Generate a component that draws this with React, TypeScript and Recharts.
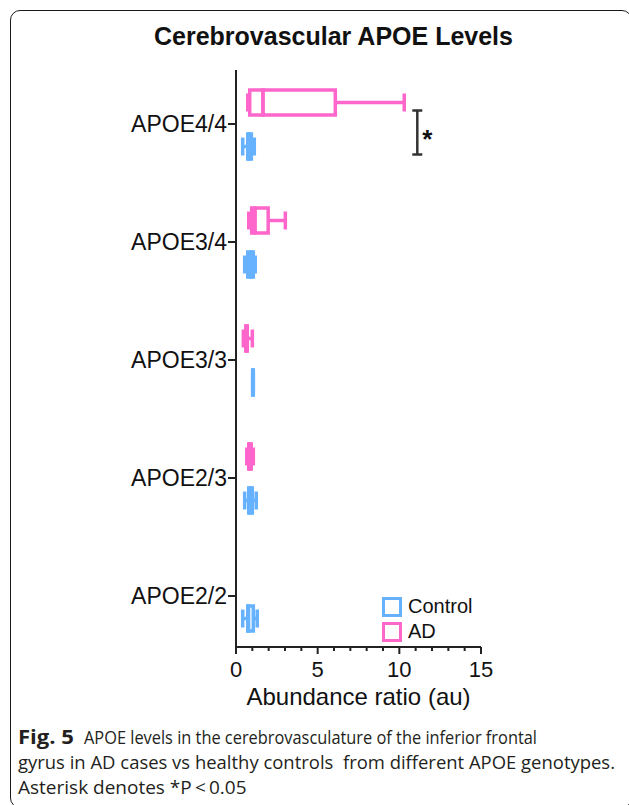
import React from 'react';
import { Bar, ComposedChart, Legend, XAxis, YAxis } from 'recharts';

const categories = ['APOE4/4', 'APOE3/4', 'APOE3/3', 'APOE2/3', 'APOE2/2'];

// [min, q1, median, q3, max] for each genotype
const adBoxes: (number[] | null)[] = [
  [0.72, 0.84, 1.65, 6.08, 10.3],
  [0.78, 0.96, 1.16, 1.97, 3.02],
  [0.45, 0.6, 0.65, 0.69, 1.0],
  [0.66, 0.78, 0.85, 0.93, 1.06],
  null,
];
const controlBoxes: (number[] | null)[] = [
  [0.41, 0.72, 0.8, 0.94, 1.12],
  [0.53, 0.72, 0.9, 1.06, 1.18],
  [1.02, 1.02, 1.04, 1.06, 1.06],
  [0.53, 0.78, 0.9, 1.0, 1.24],
  [0.41, 0.72, 0.76, 1.06, 1.3],
];

const xTicks = [0, 1, 2, 3, 4, 5, 6, 7, 8, 9, 10, 11, 12, 13, 14, 15];
const significance = [{ category: 'APOE4/4', at: 11.1, label: '*' }];

const groups = [
  { key: 'ad', name: 'AD', color: '#FF66CC', boxes: adBoxes },
  { key: 'ctrl', name: 'Control', color: '#66B2FF', boxes: controlBoxes },
];

const FONT = '"Liberation Sans", Arial, Helvetica, sans-serif';
const CAPTION_FONT = '"Open Sans", "Noto Sans", sans-serif';
const STROKE = 3.5;
const CAP = 18;
const BAR = 25;
const GAP = 19;

// stacked segments: invisible base, lower whisker, two box halves, upper whisker
const rows = categories.map((category, i) => {
  const row: any = { category };
  groups.forEach((g) => {
    const b = g.boxes[i];
    if (!b) return;
    const [mn, q1, md, q3, mx] = b;
    row[g.key + 'Base'] = mn;
    row[g.key + 'Lo'] = q1 - mn;
    row[g.key + 'Box1'] = md - q1;
    row[g.key + 'Box2'] = q3 - md;
    row[g.key + 'Hi'] = mx - q3;
  });
  return row;
});

const partShape = (part: string, g: any) => (props: any) => {
  const { x, y, width, height, payload } = props;
  if (!payload || payload[g.key + part] == null) return <g />;
  if (x == null || isNaN(x) || isNaN(y)) return <g />;
  const cy = y + height / 2;
  const c = g.color;
  if (part === 'Base') return <g />;
  if (part === 'Box1' || part === 'Box2') {
    return <rect x={x} y={y} width={width} height={height} fill="none" stroke={c} strokeWidth={STROKE} />;
  }
  if (part === 'Lo') {
    return (
      <g stroke={c} strokeWidth={STROKE}>
        <line x1={x} x2={x + width} y1={cy} y2={cy} />
        <line x1={x} x2={x} y1={cy - CAP / 2} y2={cy + CAP / 2} />
      </g>
    );
  }
  // upper whisker (+ significance bracket where marked)
  const sig = significance.find((s) => s.category === payload.category);
  let bracket = null;
  if (sig && g.key === 'ad') {
    const b = g.boxes[categories.indexOf(payload.category)];
    const ppu = width / (b[4] - b[3]);
    const bx = x + width + (sig.at - b[4]) * ppu;
    const y1 = cy + 8;
    const y2 = y1 + BAR + GAP;
    bracket = (
      <g>
        <g stroke="#333" strokeWidth={2.5}>
          <line x1={bx} x2={bx} y1={y1} y2={y2} />
          <line x1={bx - 5} x2={bx + 5} y1={y1} y2={y1} />
          <line x1={bx - 5} x2={bx + 5} y1={y2} y2={y2} />
        </g>
        <text x={bx + 10} y={(y1 + y2) / 2 + 15} textAnchor="middle" fontSize={26} fontWeight="bold" fontFamily={FONT} fill="#111">
          {sig.label}
        </text>
      </g>
    );
  }
  return (
    <g>
      <g stroke={c} strokeWidth={STROKE}>
        <line x1={x} x2={x + width} y1={cy} y2={cy} />
        <line x1={x + width} x2={x + width} y1={cy - CAP / 2} y2={cy + CAP / 2} />
      </g>
      {bracket}
    </g>
  );
};

const XTick = (props: any) => {
  const { x, y, payload } = props;
  const major = payload.value % 5 === 0;
  return (
    <g>
      <line x1={x} x2={x} y1={y} y2={y + (major ? 7 : 4)} stroke="#222" strokeWidth={2} />
      {major && (
        <text x={x} y={y + 30} textAnchor="middle" fontSize={22} fontFamily={FONT} fill="#111">
          {payload.value}
        </text>
      )}
    </g>
  );
};

const LegendBox = () => (
  <div style={{ fontFamily: FONT, fontSize: 20, color: '#111' }}>
    {[...groups].reverse().map((g) => (
      <div key={g.key} style={{ display: 'flex', alignItems: 'center', height: 25 }}>
        <span
          style={{
            display: 'inline-block',
            boxSizing: 'border-box',
            width: 20,
            height: 20,
            border: `${STROKE}px solid ${g.color}`,
            marginRight: 6,
          }}
        />
        <span>{g.name}</span>
      </div>
    ))}
  </div>
);

export default function App() {
  return (
    <div style={{ position: 'fixed', left: 0, top: 0, width: 629, height: 805, overflow: 'hidden', background: '#fff' }}>
      <div
        style={{
          position: 'absolute',
          left: 10,
          top: 10,
          width: 622,
          height: 798,
          border: '1.5px solid #1a1a1a',
          borderRadius: 10,
          boxSizing: 'border-box',
        }}
      />
      <div
        style={{
          position: 'absolute',
          left: 0,
          top: 24,
          width: 667,
          textAlign: 'center',
          fontFamily: FONT,
          fontWeight: 'bold',
          fontSize: 25,
          lineHeight: '25px',
          color: '#111',
          whiteSpace: 'nowrap',
        }}
      >
        Cerebrovascular APOE Levels
      </div>
      <div style={{ position: 'absolute', left: 0, top: 0 }}>
        <ComposedChart
          width={629}
          height={720}
          data={rows}
          layout="vertical"
          margin={{ top: 70, right: 148, left: 0, bottom: 15 }}
          barGap={GAP}
        >
          <XAxis
            type="number"
            domain={[0, 15]}
            ticks={xTicks}
            interval={0}
            height={58}
            tickSize={0}
            tickMargin={0}
            tickLine={false}
            axisLine={{ stroke: '#222', strokeWidth: 2 }}
            tick={(p: any) => <XTick {...p} />}
            label={{
              value: 'Abundance ratio (au)',
              position: 'insideBottom',
              offset: 0,
              fontSize: 24,
              fontFamily: FONT,
              fill: '#111',
            }}
          />
          <YAxis
            type="category"
            dataKey="category"
            width={236}
            tickSize={8}
            tickMargin={1}
            padding={{ top: -5, bottom: -8 }}
            axisLine={{ stroke: '#222', strokeWidth: 2 }}
            tickLine={{ stroke: '#222', strokeWidth: 2 }}
            tick={{ fontSize: 23, fontFamily: FONT, fill: '#111' }}
          />
          <Legend
            layout="vertical"
            align="center"
            verticalAlign="middle"
            content={() => <LegendBox />}
            wrapperStyle={{ position: 'absolute', left: 382, top: 594, width: 150, height: 50 }}
          />
          {groups.flatMap((g) =>
            ['Base', 'Lo', 'Box1', 'Box2', 'Hi'].map((part) => (
              <Bar
                key={g.key + part}
                dataKey={g.key + part}
                name={g.name}
                stackId={g.key}
                barSize={BAR}
                isAnimationActive={false}
                legendType="none"
                fill={g.color}
                shape={partShape(part, g)}
              />
            ))
          )}
        </ComposedChart>
      </div>
      <svg style={{ position: 'absolute', left: 0, top: 715 }} width={629} height={90}>
        <g fontFamily={CAPTION_FONT} fontSize={19} fill="#231f20">
          <text x={18} y={29} fontWeight="bold" textLength={56} lengthAdjust="spacingAndGlyphs">
            Fig. 5
          </text>
          <text x={84} y={29} textLength={453} lengthAdjust="spacingAndGlyphs">
            APOE levels in the cerebrovasculature of the inferior frontal
          </text>
          <text x={18} y={54} textLength={597} lengthAdjust="spacingAndGlyphs">
            gyrus in AD cases vs healthy controls {'\u00a0'}from different APOE genotypes.
          </text>
          <text x={18} y={79}>
            {'Asterisk denotes *P\u2009<\u20090.05'}
          </text>
        </g>
      </svg>
    </div>
  );
}
